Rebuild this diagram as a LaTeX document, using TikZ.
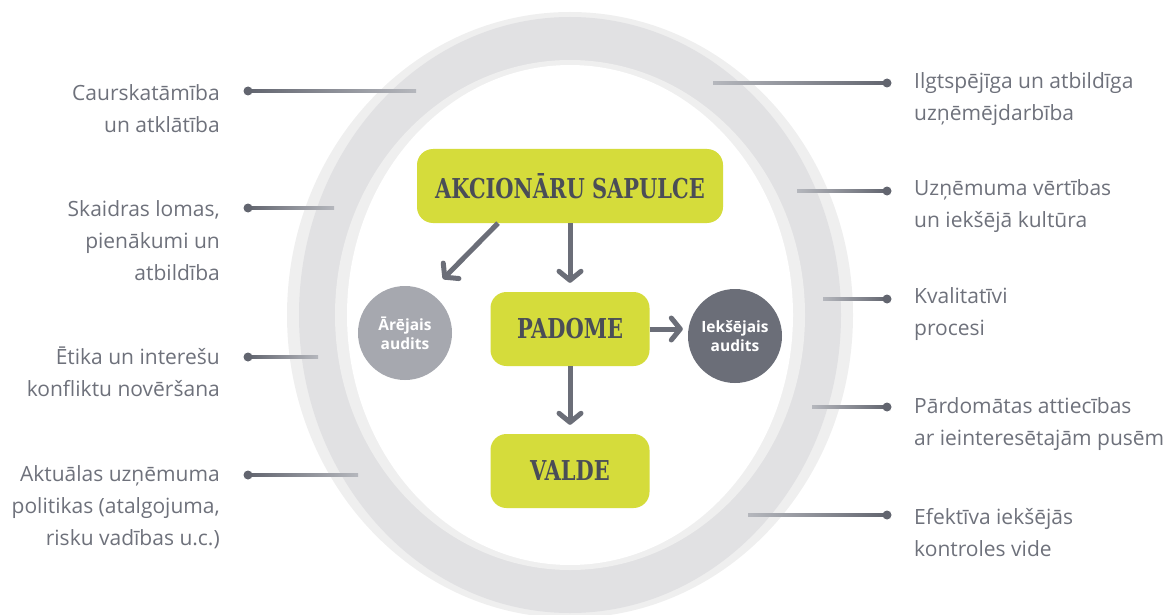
\documentclass[tikz,border=0pt]{standalone}
\usepackage{fontspec}
\setmainfont{Open Sans}
\newfontfamily\slabfont{DejaVu Serif Condensed}
\usetikzlibrary{arrows.meta,calc,positioning}

\definecolor{limebox}{HTML}{D5DC3B}
\definecolor{boxtext}{HTML}{4A4D57}
\definecolor{arrowgray}{HTML}{6B6E78}
\definecolor{ringlight}{HTML}{EFEFEF}
\definecolor{ringmid}{HTML}{E1E1E3}
\definecolor{auditlight}{HTML}{A6A8AF}
\definecolor{auditdark}{HTML}{6B6E78}
\definecolor{labelgray}{HTML}{6E717B}
\definecolor{leaddark}{HTML}{62656F}
\definecolor{leadlight}{HTML}{B5B7BD}

\newcommand\tallcaps[1]{\scalebox{0.97}[1.14]{#1}}
\tikzset{
  organ/.style={rectangle, rounded corners=16pt, fill=limebox, text=boxtext,
    font=\slabfont\bfseries\fontsize{24}{28}\selectfont, minimum height=74pt, inner sep=0pt},
  audit/.style={circle, minimum size=94pt, inner sep=0pt, text=white, align=center,
    font=\bfseries\fontsize{15.5}{19}\selectfont},
  flow/.style={draw=arrowgray, line width=5pt, -{Straight Barb[length=9pt,width=22pt,round]}},
  lbl/.style={text=labelgray, inner sep=0pt, font=\fontsize{21}{32}\selectfont},
}
% lead line: dot end first, ring end second
\newcommand\leadL[2]{\shade[left color=leaddark,right color=leadlight] ($(#1)+(0,-1.5)$) rectangle ($(#2)+(0,1.5)$);
  \fill[leaddark] (#1) circle (4.5pt);}
\newcommand\leadR[2]{\shade[left color=leadlight,right color=leaddark] ($(#2)+(0,-1.5)$) rectangle ($(#1)+(0,1.5)$);
  \fill[leaddark] (#1) circle (4.5pt);}

\begin{document}
\begin{tikzpicture}[x=1pt,y=-1pt]
\useasboundingbox (0,0) rectangle (1167,615);

% ring
\fill[ringlight] (570,315) ellipse [x radius=283pt, y radius=303pt];
\fill[ringmid] (570,315) ellipse [x radius=271pt, y radius=298pt];
\fill[ringlight] (570,315) ellipse [x radius=235pt, y radius=255pt];
\fill[white] (570,315) ellipse [x radius=223pt, y radius=250pt];

% governance bodies
\node[organ, minimum width=306pt] (akc) at (570,186) {\tallcaps{AKCIONĀRU SAPULCE}};
\node[organ, minimum width=159pt] (padome) at (570,329) {\tallcaps{PADOME}};
\node[organ, minimum width=159pt] (valde) at (570,471) {\tallcaps{VALDE}};
\node[audit, fill=auditlight] (arejais) at (405,333) {Ārējais\\audits};
\node[audit, fill=auditdark] (ieksejais) at (735,336) {Iekšējais\\audits};

\coordinate (aretip) at (443,279);
\draw[flow] ([xshift=-72pt]akc.south) -- (aretip);
\draw[flow, shorten >=9pt] (akc) -- (padome);
\draw[flow, shorten >=5pt] (padome.east) -- (padome.east -| ieksejais.west);
\draw[flow, shorten >=9pt] (padome) -- (valde);

% left principles
\node[lbl, align=right, anchor=east] (caur) at (220,109) {Caurskatāmība\\un atklātība};
\node[lbl, align=right, anchor=east] (lomas) at (220,241) {Skaidras lomas,\\pienākumi un\\atbildība};
\node[lbl, align=right, anchor=east] (etika) at (220,372) {Ētika un interešu\\konfliktu novēršana};
\node[lbl, align=right, anchor=east] (polit) at (220,507) {Aktuālas uzņēmuma\\politikas (atalgojuma,\\risku vadības u.c.)};

\coordinate (caurdot) at (248,91);  \coordinate (caurend) at (416,91);
\coordinate (lomasdot) at (248,208); \coordinate (lomasend) at (334,208);
\coordinate (etikadot) at (248,357); \coordinate (etikaend) at (318,357);
\coordinate (politdot) at (248,475); \coordinate (politend) at (358,475);
\leadL{caurdot}{caurend}
\leadL{lomasdot}{lomasend}
\leadL{etikadot}{etikaend}
\leadL{politdot}{politend}

% right principles
\node[lbl, align=left, anchor=west] (ilgt) at (914,99) {Ilgtspējīga un atbildīga\\uzņēmējdarbība};
\node[lbl, align=left, anchor=west] (vert) at (914,206) {Uzņēmuma vērtības\\un iekšējā kultūra};
\node[lbl, align=left, anchor=west] (kval) at (914,314) {Kvalitatīvi\\procesi};
\node[lbl, align=left, anchor=west] (attiec) at (914,424) {Pārdomātas attiecības\\ar ieinteresētajām pusēm};
\node[lbl, align=left, anchor=west] (kontr) at (914,533) {Efektīva iekšējās\\kontroles vide};

\coordinate (ilgtdot) at (887,83);   \coordinate (ilgtend) at (713,83);
\coordinate (vertdot) at (887,191);  \coordinate (vertend) at (797,191);
\coordinate (kvaldot) at (887,299);  \coordinate (kvalend) at (823,299);
\coordinate (attiecdot) at (887,407); \coordinate (attiecend) at (812,407);
\coordinate (kontrdot) at (887,515); \coordinate (kontrend) at (748,515);
\leadR{ilgtdot}{ilgtend}
\leadR{vertdot}{vertend}
\leadR{kvaldot}{kvalend}
\leadR{attiecdot}{attiecend}
\leadR{kontrdot}{kontrend}
\end{tikzpicture}
\end{document}
